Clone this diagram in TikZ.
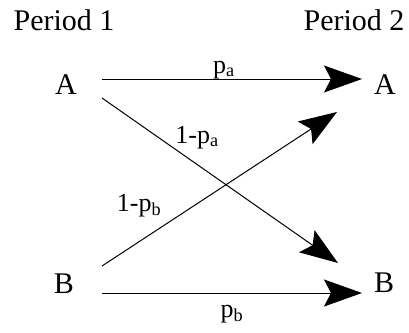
\documentclass[tikz,border=0pt]{standalone}
\usepackage{fontspec}
\setmainfont{Liberation Serif}
\usetikzlibrary{arrows.meta,calc}
\begin{document}
\begin{tikzpicture}[x=1pt,y=-1pt,
  lbl/.style={inner sep=0pt,font=\fontsize{30}{36}\selectfont},
  sub/.style={inner sep=0pt,font=\fontsize{26}{31}\selectfont},
  arr/.style={line width=1pt,-{Stealth[length=38pt,width=27pt,inset=7pt]}}]
\useasboundingbox (0,0) rectangle (409,332);
\node[lbl] (P1) at (64,20) {Period 1};
\node[lbl] (P2) at (354,20) {Period 2};
\node[lbl] (A1) at (66,85) {A};
\node[lbl] (A2) at (385,85) {A};
\node[lbl] (B1) at (64,284) {B};
\node[lbl] (B2) at (384,283) {B};
\draw[arr] ($(A1.center)+(36,-6)$) -- ($(A2.center)+(-23,-6)$);
\draw[arr] ($(A1.center)+(36,13)$) -- ($(B2.center)+(-46,-20)$);
\draw[arr] ($(B1.center)+(38,-18)$) -- ($(A2.center)+(-48,27)$);
\draw[arr] ($(B1.center)+(38,9)$) -- ($(B2.center)+(-22,10)$);
\node[sub,anchor=base] (pa) at (224,73) {p\textsubscript{a}};
\node[sub,anchor=base] (qa) at (197,143) {1-p\textsubscript{a}};
\node[sub,anchor=base] (qb) at (139,211) {1-p\textsubscript{b}};
\node[sub,anchor=base] (pb) at (232,317) {p\textsubscript{b}};
\end{tikzpicture}
\end{document}
